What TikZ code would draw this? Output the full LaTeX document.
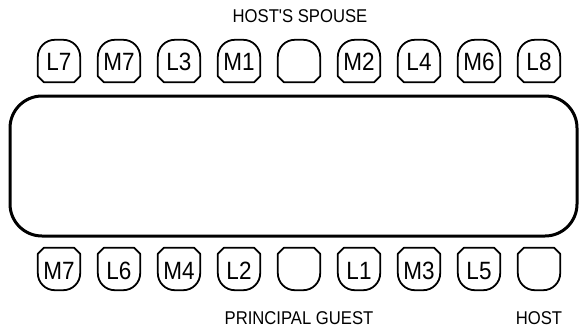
\documentclass[tikz,border=0pt]{standalone}
\usepackage{fontspec}
\setmainfont{Liberation Sans}
\newfontfamily\narrowsans[FakeStretch=0.9]{Liberation Sans}
\usepackage{tikz}
\usetikzlibrary{positioning}

\tikzset{
  seat/.style={minimum width=42pt, minimum height=42pt, inner sep=0pt},
  seatlabel/.style={inner sep=0pt, font=\narrowsans\fontsize{25}{25}\selectfont},
  chairline/.style={line width=1.8pt, line join=round},
  tablebox/.style={draw, line width=3pt, rounded corners=32pt,
    minimum width=567pt, minimum height=140pt, inner sep=0pt},
  caption/.style={font=\narrowsans\fontsize{18.5}{18.5}\selectfont, inner sep=0pt}
}

\begin{document}
\begin{tikzpicture}[x=1pt, y=-1pt]
  \useasboundingbox (0,0) rectangle (580,332);

  % Table
  \node[tablebox] (table) at (293.5,166) {};

  % Chairs along the top side (back rounded, front chamfered towards the table)
  \foreach \i/\lab in {0/L7, 1/M7, 2/L3, 3/M1, 4/{}, 5/M2, 6/L4, 7/M6, 8/L8} {
    \node[seat] (top\i) at ({59+60*\i},61) {};
    \node[seatlabel] (toplab\i) at ([yshift=-1pt]top\i.center) {\lab};
    \draw[chairline] ([yshift=10pt]top\i.south east) -- ([yshift=6pt]top\i.south east)
      -- ([xshift=-6pt]top\i.south east) -- ([xshift=6pt]top\i.south west)
      -- ([yshift=6pt]top\i.south west) -- ([yshift=10pt]top\i.south west)
      [rounded corners=17pt] -- (top\i.north west) -- (top\i.north east)
      -- ([yshift=10pt]top\i.south east);
  }

  % Chairs along the bottom side
  \foreach \i/\lab in {0/M7, 1/L6, 2/M4, 3/L2, 4/{}, 5/L1, 6/M3, 7/L5, 8/{}} {
    \node[seat] (bot\i) at ({59+60*\i},269) {};
    \node[seatlabel] (botlab\i) at ([yshift=-2pt]bot\i.center) {\lab};
    \draw[chairline] ([yshift=-10pt]bot\i.north east) -- ([yshift=-6pt]bot\i.north east)
      -- ([xshift=-6pt]bot\i.north east) -- ([xshift=6pt]bot\i.north west)
      -- ([yshift=-6pt]bot\i.north west) -- ([yshift=-10pt]bot\i.north west)
      [rounded corners=17pt] -- (bot\i.south west) -- (bot\i.south east)
      -- ([yshift=-10pt]bot\i.north east);
  }

  % Captions
  \node[caption] (spouse) at (300,16) {HOST'S SPOUSE};
  \node[caption] (guest) at (299,318) {PRINCIPAL GUEST};
  \node[caption] (host) at (bot8 |- guest) {HOST};
\end{tikzpicture}
\end{document}
